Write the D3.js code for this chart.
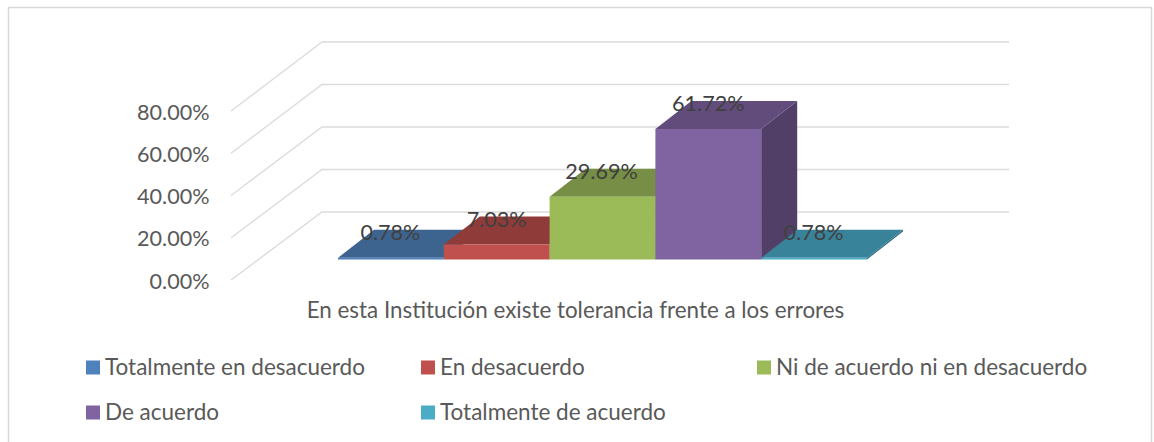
<!DOCTYPE html>
<html><head><meta charset="utf-8">
<script src="https://cdn.jsdelivr.net/npm/d3@7/dist/d3.min.js"></script>
<style>html,body{margin:0;padding:0;background:#fff}svg{display:block}text{font-family:Lato,"Open Sans",sans-serif}</style>
</head><body><svg id="c" width="1154" height="442"></svg>
<script>
const categories = ["Totalmente en desacuerdo","En desacuerdo","Ni de acuerdo ni en desacuerdo","De acuerdo","Totalmente de acuerdo"];
const seriesValues = [0.78,7.03,29.69,61.72,0.78];
const seriesLabels = ["0.78%","7.03%","29.69%","61.72%","0.78%"];
const tickValues = [0,20,40,60,80];
const tickLabels = ["0.00%","20.00%","40.00%","60.00%","80.00%"];
const axisTitle = "En esta Institución existe tolerancia frente a los errores";
const frontColors = ["#4f81bd","#c0504d","#9bbb59","#8064a2","#4bacc6"];
const topColors = ["#3d638f","#8f3b39","#768e45","#614c7c","#39839a"];
const sideColors = ["#345579","#7a3230","#647a3b","#523f68","#306f83"];
const legendRows = [[0,1,2],[3,4]];

const svg = d3.select("#c");
svg.append("rect").attr("x",8.5).attr("y",7.5).attr("width",1143).attr("height",442).attr("fill","#fff").attr("stroke","#d9d9d9").attr("stroke-width",1.5);

const yFront = d3.scaleLinear().domain([0,80]).range([280,111]);
const yBack = d3.scaleLinear().domain([0,80]).range([212,42]);
const grid = svg.append("g").attr("fill","none").attr("stroke","#dcdcdc").attr("stroke-width",1.4);
tickValues.forEach(t=>{
  grid.append("path").attr("d",d3.line()([[231,yFront(t)],[322,yBack(t)],[1009,yBack(t)]]));
});
svg.append("g").selectAll("text").data(tickValues).join("text")
  .attr("x",209.5).attr("y",t=>yFront(t)+8.5).attr("text-anchor","end")
  .attr("font-size",21.6).attr("fill","#595959").text((t,i)=>tickLabels[i]);

const x = d3.scaleBand().domain(d3.range(categories.length)).range([338,867]);
const h = d3.scaleLinear().domain([0,80]).range([0,169.3]);
const base = 259.5, dx = 36, dy = 28;
const poly = pts => d3.line()(pts)+"Z";
const bars = svg.append("g");
seriesValues.forEach((v,i)=>{
  const x0=x(i), x1=x0+x.bandwidth(), top=base-h(v);
  const g = bars.append("g");
  g.append("path").attr("fill",sideColors[i]).attr("d",poly([[x1,base],[x1+dx,base-dy],[x1+dx,top-dy],[x1,top]]));
  g.append("path").attr("fill",topColors[i]).attr("d",poly([[x0,top],[x0+dx,top-dy],[x1+dx,top-dy],[x1,top]]));
  g.append("path").attr("fill",frontColors[i]).attr("d",poly([[x0,base],[x0,top],[x1,top],[x1,base]]));
});
svg.append("g").selectAll("text").data(seriesValues).join("text")
  .attr("x",(v,i)=>x(i)+x.bandwidth()/2+[-0.5,0,-1,0,-0.5][i])
  .attr("y",(v)=>base-h(v)-dy+10)
  .attr("text-anchor","middle").attr("font-size",21.6).attr("fill","#404040")
  .text((v,i)=>seriesLabels[i]);

svg.append("text").attr("x",575.5).attr("y",318).attr("text-anchor","middle")
  .attr("font-size",22.4).attr("fill","#595959").text(axisTitle);

const legendX = [86,421,757];
const legendY = [367,412];
legendRows.forEach((row,r)=>row.forEach((c,k)=>{
  svg.append("rect").attr("x",legendX[k]).attr("y",legendY[r]-6.5).attr("width",14).attr("height",14).attr("fill",frontColors[c]);
  svg.append("text").attr("x",legendX[k]+19).attr("y",legendY[r]+7.5).attr("font-size",22.5).attr("fill","#595959").text(categories[c]);
}));
</script></body></html>
